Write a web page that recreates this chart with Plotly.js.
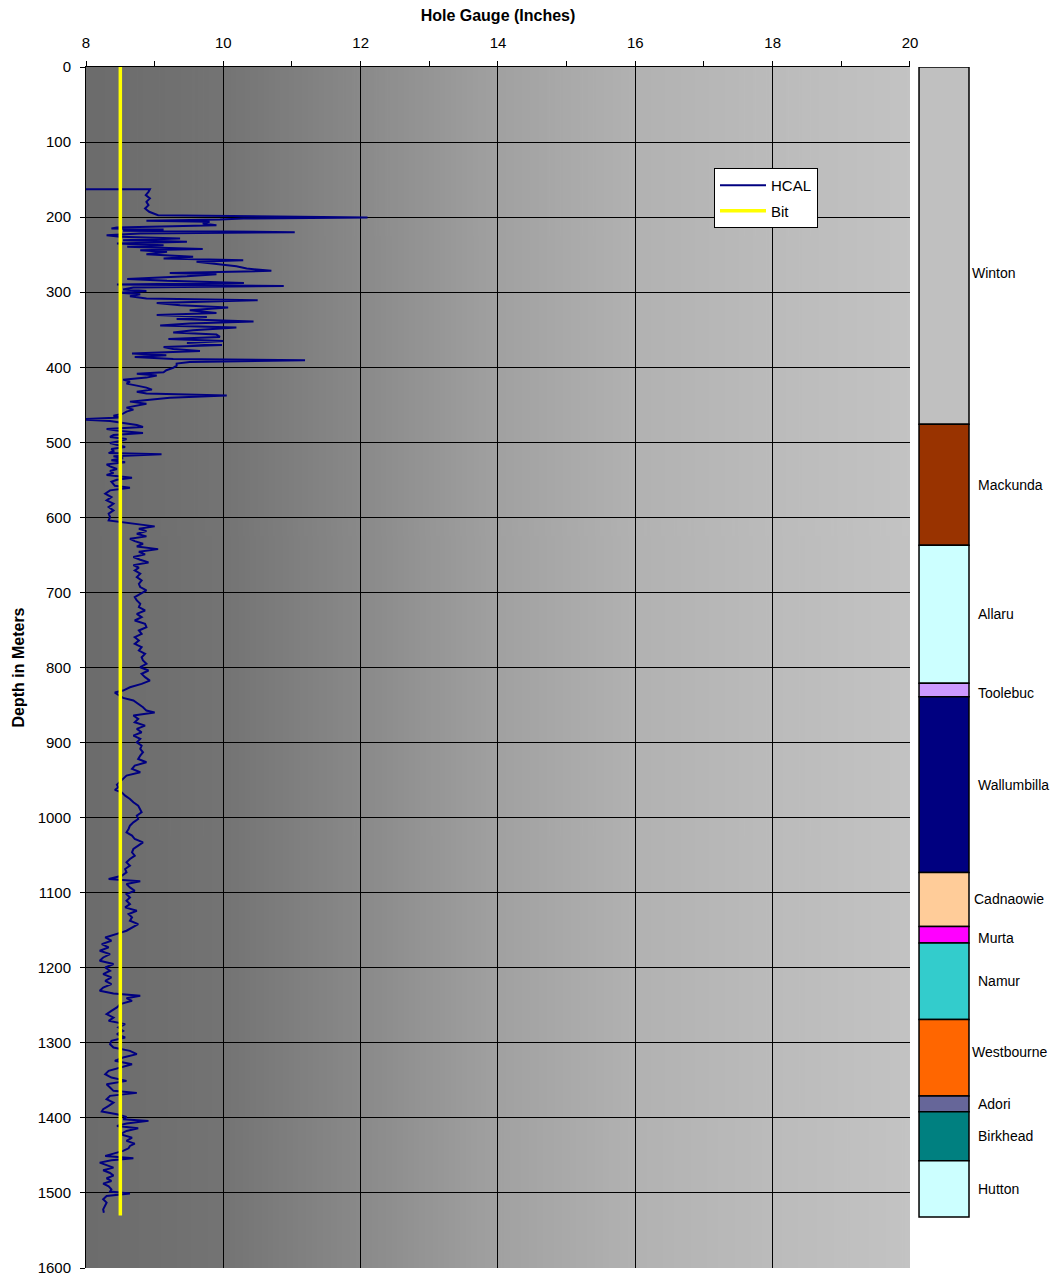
<!DOCTYPE html>
<html>
<head>
<meta charset="utf-8">
<script src="https://cdn.plot.ly/plotly-3.0.1.min.js"></script>
<style>html,body{margin:0;padding:0;background:#fff;}#chart{width:1054px;height:1278px;}</style>
</head>
<body>
<div id="chart"></div>
<script>
// ---------------- DATA ----------------
const hcalDepth = [
163,163,166.3,170.7,175.1,179.6,184,188.5,192.9,197.4,200.5,201.8,203.1,204.9,206.3,208.5,210.7,212,213.8,215.1,
216.5,218.3,220,221.8,224,226.3,228.5,230.7,232.9,235.1,237.4,239.6,242.3,244,246.3,249.4,251.1,252.9,255.1,257.4,
259.6,262.7,265.4,268.5,271.6,274.3,276,278.7,280.5,282.3,284.9,287.6,289.8,291.6,293.8,296.5,298.3,300.9,302.7,305.4,
308.5,310.7,314.3,317.4,320.5,324,327.6,330.3,332.9,335.6,339.1,341.8,344.5,347.1,350.7,353.8,356.5,359.6,362.3,364.9,
367.6,370.3,372.9,375.6,378.3,380,381.8,384,386.3,388.9,390.7,392.9,395.1,397.8,400.9,404,406.7,408.5,411.1,413.8,
416.5,419.1,421.8,424.5,427.1,429.8,432.5,435.1,437.8,440.5,443.1,445.8,448.5,451.1,453.8,456.5,459.1,461.8,464.5,467.1,
469.4,471.6,474.3,476.9,479.6,482.3,484.9,487.6,490.3,492.9,495.6,498.3,500.9,503.6,506.3,508.9,511.6,514.3,516,518.7,
521.3,524,526.7,529.4,532,535.6,538.3,540.9,543.6,547.1,549.8,552.5,555.1,557.8,560.5,564,568.5,572.9,577.4,581.8,
586.3,590.7,595.1,599.6,604,606.7,609.3,612,615.1,618.3,621.8,625.3,628.5,631.6,635.1,638.7,642.3,645.8,649.3,652.9,
656.5,660,663.6,667.1,670.7,675.1,679.6,684,688.5,692.9,697.4,701.8,706.3,710.7,715.1,719.6,724,728.5,732.9,737.4,
741.8,746.3,750.7,755.1,759.6,764,768.5,772.9,777.4,781.8,786.3,790.7,795.1,799.6,804,808.5,812.9,817.4,821.8,826.3,
830.7,833.4,837.4,840.5,844,848.5,852.9,857.4,860,864,868.5,872.9,877.4,881.8,886.3,890.7,895.1,899.6,904,908.5,
912.9,917.4,921.8,926.3,930.7,935.1,939.6,944,948.5,952.9,956,959.6,963.1,966.3,970.7,975.1,979.6,984,988.5,992.9,
997.4,1001.8,1006.3,1010.7,1015.1,1019.6,1024,1028.5,1032.9,1037.4,1041.8,1046.3,1050.7,1055.1,1059.6,1064,1068.5,1072.9,1077.4,1081.8,
1084.9,1088.5,1092.9,1097.4,1101.8,1106.3,1110.7,1115.1,1119.6,1124,1128.5,1132.9,1137.4,1141.8,1146.3,1150.7,1152.9,1155.1,1159.6,1164,
1168.5,1172.9,1177.4,1181.8,1186.3,1190.7,1195.1,1199.6,1204,1208.5,1212.9,1217.4,1221.8,1226.3,1230.7,1234.3,1237.4,1240.5,1244,1248.5,
1252.9,1257.4,1261.8,1266.3,1270.7,1275.1,1279.6,1284,1288.5,1292.9,1297.4,1301.8,1306.3,1310.7,1315.1,1319.6,1324,1328.5,1332.9,1337.4,
1341.8,1346.3,1350.7,1355.1,1359.6,1364,1366.7,1370.7,1375.1,1379.6,1384,1388.5,1391.6,1395.1,1398.7,1401.8,1404,1407.6,1410.7,1413.8,
1417.4,1421.8,1426.3,1430.7,1434.3,1437.4,1440.5,1444,1447.6,1450.7,1453.8,1456.5,1459.6,1462.7,1466.3,1469.8,1473.4,1476.9,1480.5,1484,
1487.6,1491.1,1495.1,1498.2,1500.9,1504,1508.5,1512.9,1517.4,1521.8,1526.3
];
const hcalValue = [
7.9,8.93,8.91,8.87,8.93,8.88,8.91,8.86,8.92,9.05,12.1,10.29,9.95,8.88,9.8,9.7,9.9,9.37,8.45,8.37,
9.13,8.54,11.04,8.79,8.3,8.5,9.37,8.54,9.47,8.45,9.13,8.6,9.7,8.79,9.18,8.88,9.32,9.56,9.13,10.29,
9.61,9.95,10.19,10.34,10.7,9.22,9.9,9.47,8.88,8.6,9.18,10.3,8.45,10.88,8.69,8.54,8.88,8.5,8.79,8.64,
8.88,10.5,9.03,9.37,10.07,9.51,9.9,9.03,9.76,9.32,10.44,9.51,9.08,10.19,9.56,9.27,9.9,9.95,9.2,10.0,
9.47,9.98,9.13,9.27,9.66,9.03,8.67,9.17,8.71,9.27,11.19,9.51,9.32,9.32,9.27,9.17,9.13,8.74,9.03,8.88,
8.54,8.64,8.59,8.74,8.88,8.96,8.74,8.88,10.05,9.22,8.93,8.64,8.88,8.74,8.59,8.69,8.59,8.54,8.4,8.5,
7.9,8.35,8.54,8.74,8.83,8.3,8.5,8.83,8.4,8.35,8.59,8.5,8.35,8.45,8.57,8.37,8.4,8.33,9.1,8.4,
8.54,8.37,8.57,8.3,8.35,8.45,8.35,8.4,8.3,8.67,8.45,8.37,8.4,8.42,8.64,8.35,8.28,8.37,8.3,8.4,
8.33,8.4,8.33,8.35,8.33,8.54,8.79,9.0,8.77,8.88,8.74,8.88,8.64,8.71,8.83,8.74,9.05,8.77,8.86,8.69,
8.79,8.91,8.69,8.77,8.71,8.79,8.74,8.81,8.77,8.79,8.88,8.79,8.71,8.74,8.79,8.77,8.86,8.74,8.81,8.71,
8.86,8.88,8.77,8.81,8.71,8.77,8.71,8.81,8.77,8.86,8.81,8.83,8.88,8.79,8.91,8.81,8.86,8.93,8.81,8.64,
8.54,8.42,8.5,8.54,8.69,8.76,8.83,8.88,9.0,8.69,8.76,8.71,8.86,8.74,8.81,8.69,8.79,8.74,8.81,8.79,
8.83,8.79,8.76,8.88,8.71,8.67,8.79,8.59,8.54,8.5,8.45,8.47,8.42,8.52,8.57,8.64,8.69,8.76,8.79,8.81,
8.74,8.76,8.69,8.64,8.62,8.59,8.67,8.71,8.83,8.76,8.69,8.67,8.71,8.64,8.59,8.64,8.57,8.59,8.52,8.33,
8.79,8.59,8.64,8.71,8.59,8.64,8.59,8.64,8.57,8.74,8.62,8.67,8.64,8.76,8.67,8.59,8.52,8.45,8.28,8.37,
8.23,8.33,8.2,8.35,8.25,8.2,8.4,8.28,8.35,8.25,8.37,8.28,8.37,8.25,8.2,8.4,8.79,8.59,8.67,8.5,
8.45,8.37,8.3,8.4,8.33,8.57,8.47,8.54,8.45,8.57,8.37,8.35,8.4,8.64,8.74,8.54,8.42,8.67,8.5,8.33,
8.28,8.37,8.59,8.3,8.35,8.4,8.74,8.35,8.3,8.4,8.33,8.25,8.23,8.45,8.59,8.54,8.91,8.59,8.45,8.76,
8.59,8.5,8.67,8.59,8.71,8.64,8.62,8.54,8.4,8.28,8.69,8.37,8.2,8.3,8.4,8.25,8.35,8.4,8.3,8.37,
8.25,8.33,8.37,8.35,8.64,8.3,8.25,8.3,8.28,8.25,8.26
];
const bitSize = [8.5, 8.5];
const bitDepth = [0, 1530];

const formations = ['Winton','Mackunda','Allaru','Toolebuc','Wallumbilla','Cadnaowie','Murta','Namur','Westbourne','Adori','Birkhead','Hutton'];
const formationTop = [0, 476, 637, 821, 839, 1073, 1145, 1167, 1269, 1371, 1392, 1457];
const formationBase = [476, 637, 821, 839, 1073, 1145, 1167, 1269, 1371, 1392, 1457, 1532];

const xTickVals = [8, 10, 12, 14, 16, 18, 20];
const yTickVals = [0,100,200,300,400,500,600,700,800,900,1000,1100,1200,1300,1400,1500,1600];

// ---------------- STYLE ----------------
const formationColors = ['#c0c0c0','#993300','#ccffff','#cc99ff','#000080','#ffcc99','#ff00ff','#33cccc','#ff6600','#666699','#008080','#ccffff'];
const FONT = 'Liberation Sans, Arial, sans-serif';

// gradient background image
const cv = document.createElement('canvas');
cv.width = 600; cv.height = 4;
const ctx = cv.getContext('2d');
const grad = ctx.createLinearGradient(0, 0, 600, 0);
grad.addColorStop(0.00, '#6c6c6c');
grad.addColorStop(0.10, '#707070');
grad.addColorStop(0.17, '#747474');
grad.addColorStop(0.33, '#898989');
grad.addColorStop(0.50, '#a1a1a1');
grad.addColorStop(0.67, '#b2b2b2');
grad.addColorStop(0.83, '#bbbbbb');
grad.addColorStop(1.00, '#c3c3c3');
ctx.fillStyle = grad;
ctx.fillRect(0, 0, 600, 4);
const bgSrc = cv.toDataURL('image/png');

const traces = [
  {
    type: 'scatter', mode: 'lines', name: 'HCAL', legendgroup: 'g1',
    x: hcalValue, y: hcalDepth, xaxis: 'x', yaxis: 'y',
    line: {color: '#000080', width: 2}
  },
  {
    type: 'scatter', mode: 'lines', name: 'Bit', legendgroup: 'g2',
    x: bitSize, y: bitDepth, xaxis: 'x', yaxis: 'y',
    line: {color: '#ffff00', width: 3.5}
  },
  {
    type: 'bar', showlegend: false, xaxis: 'x2', yaxis: 'y2',
    x: formations.map(() => 0),
    base: formationTop,
    y: formationBase.map((b, i) => b - formationTop[i]),
    width: formations.map(() => 1),
    marker: {color: formationColors, line: {color: '#000000', width: 1.5}},
    hoverinfo: 'skip'
  }
];

const labelShift = {Winton: 37, Toolebuc: 4, Murta: 4, Westbourne: -8};
const labelX = {Winton: 0.9995, Cadnaowie: 1.0018, Westbourne: 0.9995};
const annotations = formations.map((f, i) => ({
  text: f, xref: 'paper', yref: 'y2',
  x: labelX[f] !== undefined ? labelX[f] : 1.0068,
  y: (formationTop[i] + formationBase[i]) / 2 + (labelShift[f] || 0),
  xanchor: 'left', yanchor: 'middle', showarrow: false,
  font: {family: FONT, size: 14, color: '#000'}
}));

const layout = {
  width: 1054, height: 1278,
  margin: {l: 86, r: 84, t: 67, b: 10, pad: 0},
  paper_bgcolor: '#ffffff',
  plot_bgcolor: 'rgba(0,0,0,0)',
  font: {family: FONT, size: 15, color: '#000'},
  showlegend: true,
  legend: {
    x: 0.7104, y: 0.9159, xanchor: 'left', yanchor: 'top',
    bgcolor: '#ffffff', bordercolor: '#000000', borderwidth: 1,
    font: {family: FONT, size: 15, color: '#000'},
    itemwidth: 46, tracegroupgap: 3, traceorder: 'grouped'
  },
  xaxis: {
    domain: [0, 0.9321], range: [8, 20], side: 'top', anchor: 'y',
    tickmode: 'array', tickvals: xTickVals,
    ticks: 'outside', ticklen: 5, tickcolor: '#000', tickwidth: 1,
    minor: {dtick: 1, tick0: 8, ticks: 'outside', ticklen: 5, tickcolor: '#000', showgrid: false},
    showline: true, linecolor: '#000', linewidth: 1,
    showgrid: true, gridcolor: '#000', gridwidth: 1, zeroline: false,
    tickfont: {family: FONT, size: 15, color: '#000'},
    ticklabelstandoff: 7,
    title: {text: '<b>Hole Gauge (Inches)</b>', font: {family: FONT, size: 16, color: '#000'}, standoff: 8},
    automargin: false, fixedrange: true
  },
  yaxis: {
    domain: [0, 1], range: [1600, 0], anchor: 'x',
    tickmode: 'array', tickvals: yTickVals,
    ticks: 'outside', ticklen: 5, tickcolor: '#000', tickwidth: 1,
    showline: true, linecolor: '#000', linewidth: 1,
    showgrid: true, gridcolor: '#000', gridwidth: 1, zeroline: false,
    tickfont: {family: FONT, size: 15, color: '#000'},
    ticklabelstandoff: 6,
    title: {text: '<b>Depth in Meters</b>', font: {family: FONT, size: 16, color: '#000'}, standoff: 9},
    automargin: false, fixedrange: true
  },
  xaxis2: {domain: [0.9412, 1], range: [-0.52, 0.52], anchor: 'y2', visible: false, fixedrange: true},
  yaxis2: {domain: [0, 1], range: [1600, 0], anchor: 'x2', visible: false, showgrid: false, fixedrange: true},
  images: [{
    source: bgSrc, xref: 'x', yref: 'paper', x: 8, y: 1, sizex: 12, sizey: 1,
    xanchor: 'left', yanchor: 'top', sizing: 'stretch', layer: 'below'
  }],
  annotations: annotations
};

Plotly.newPlot('chart', traces, layout, {displayModeBar: false, staticPlot: true});
</script>
</body>
</html>
